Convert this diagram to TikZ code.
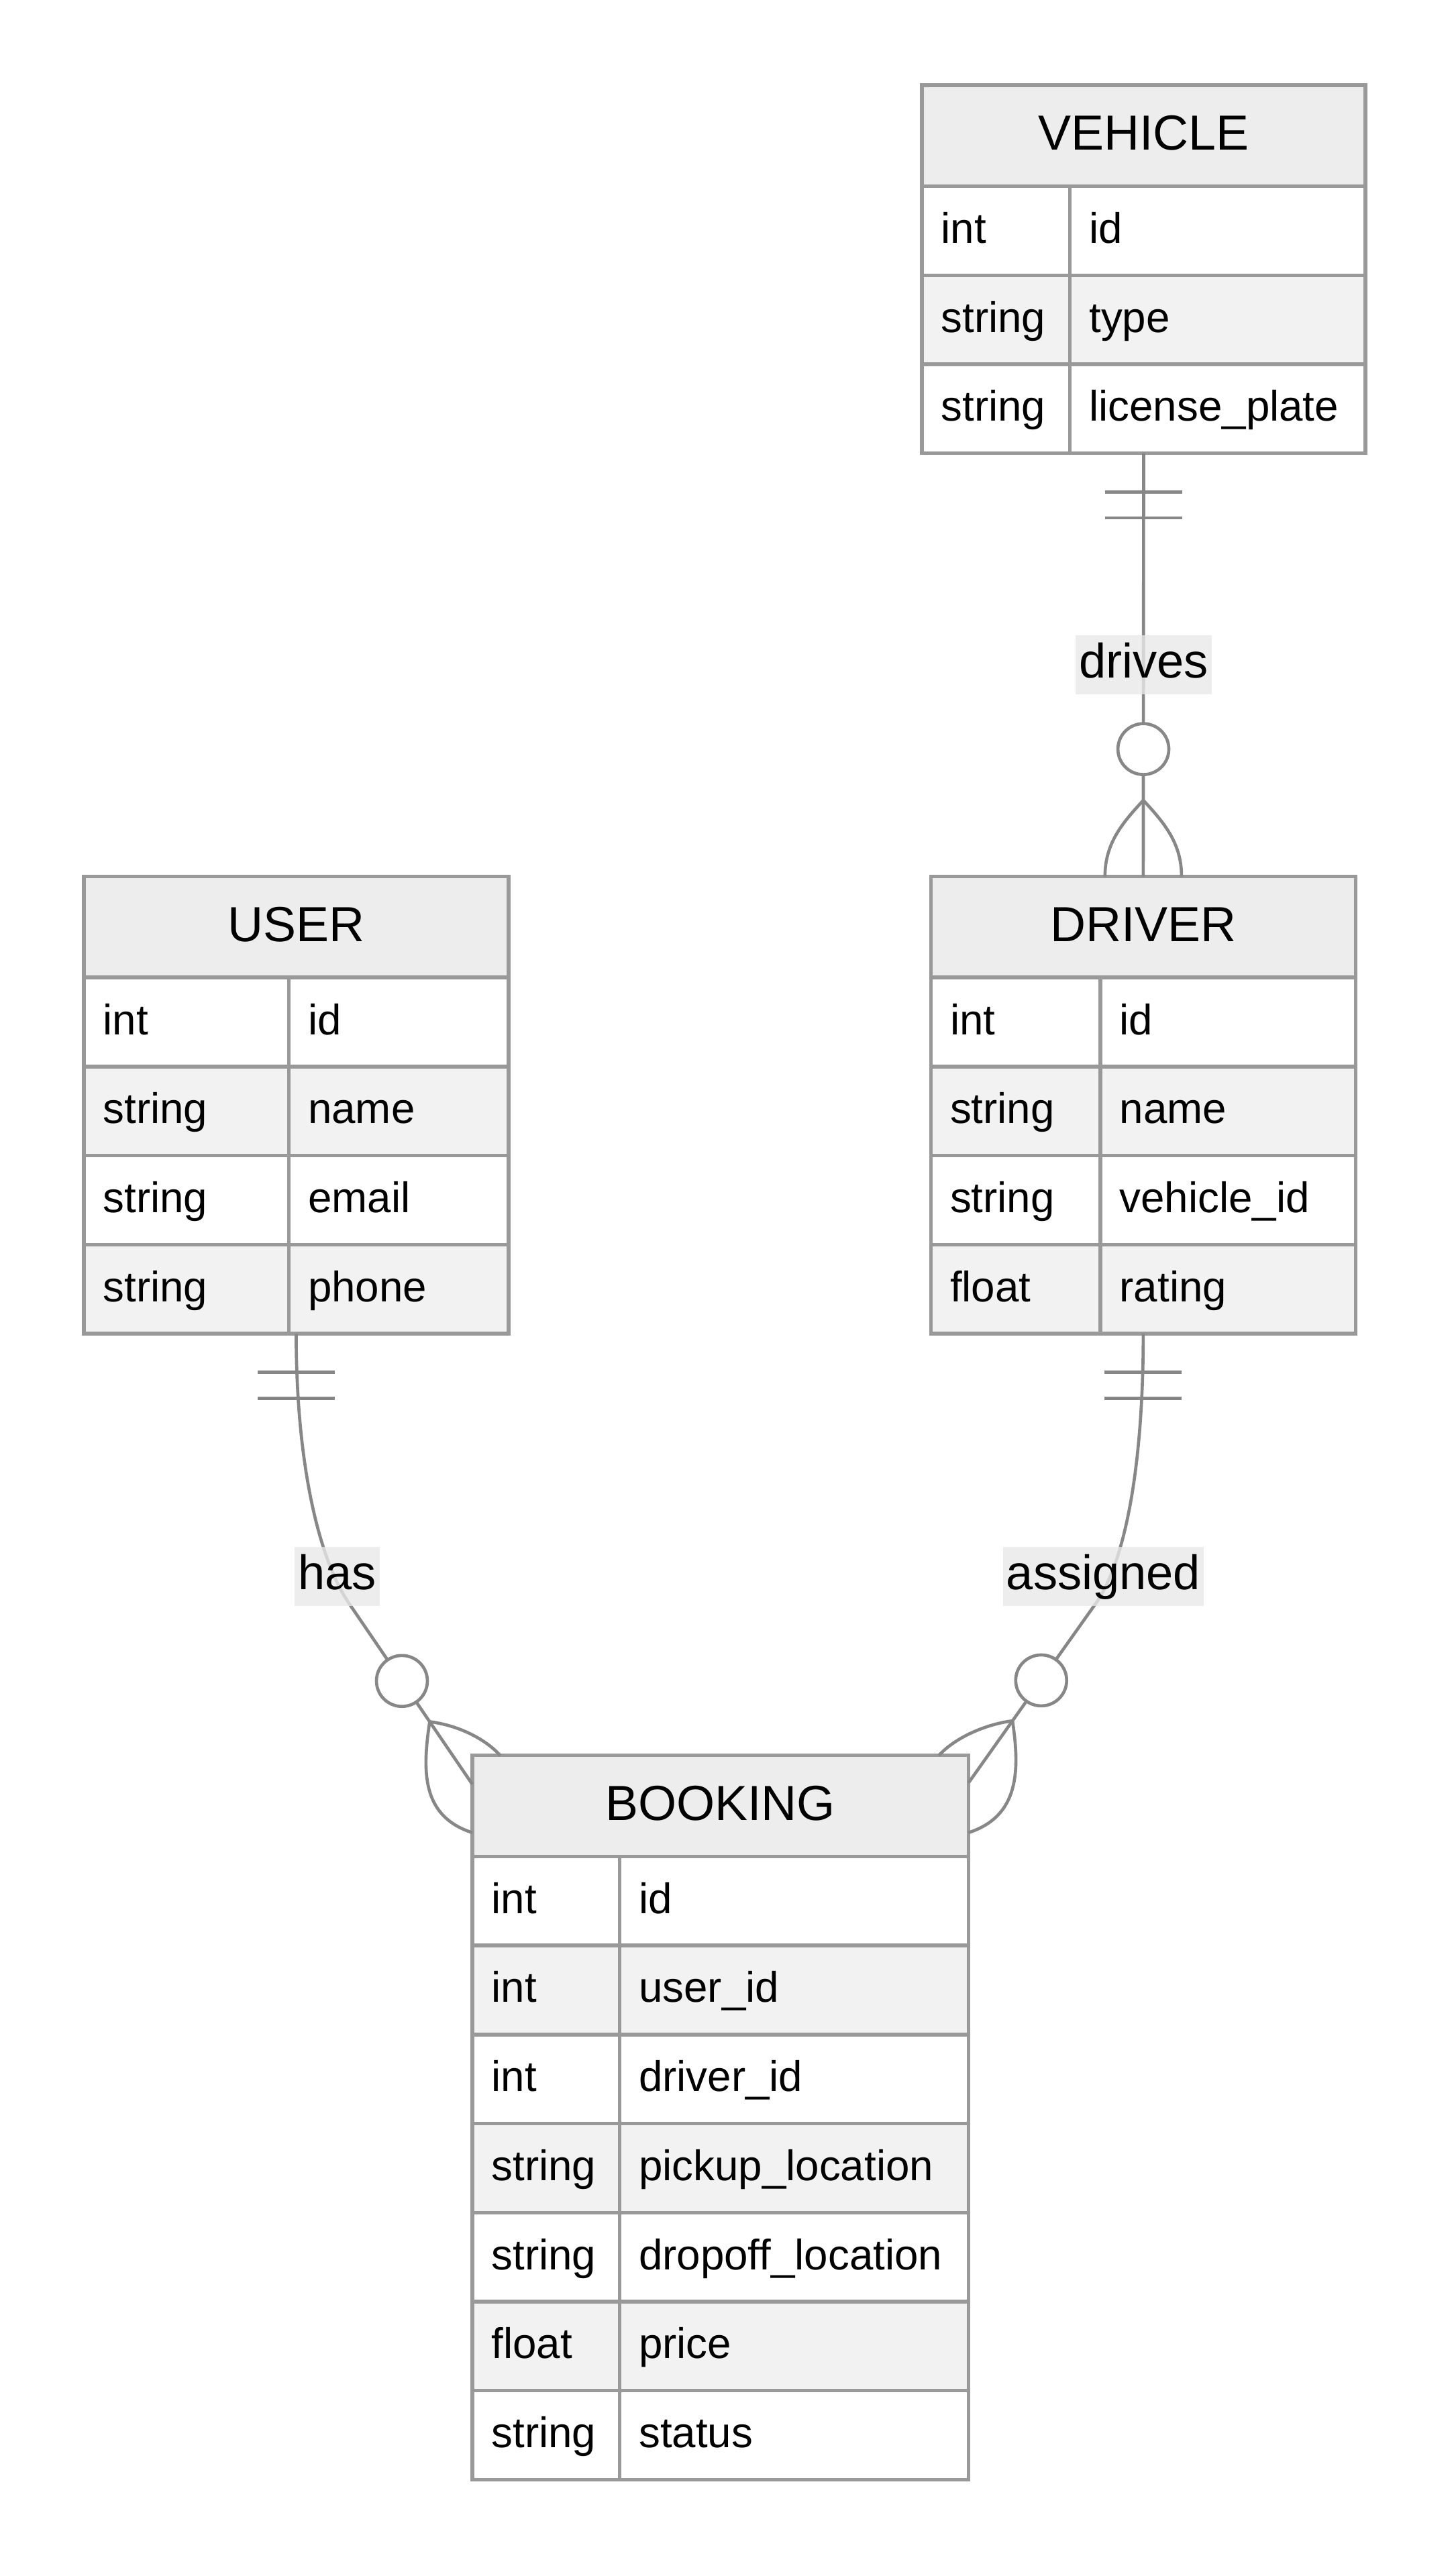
\documentclass[tikz,border=0pt]{standalone}
\usepackage{fontspec}
\setmainfont{Liberation Sans}

\tikzset{
  tableline/.style={draw=black!40, line width=2.2pt},
  headfill/.style={fill=black!7},
  rowfill/.style={fill=black!5},
  titletext/.style={font=\fontsize{30}{36}\selectfont, text height=22.5pt, text depth=5pt, inner sep=0pt},
  celltext/.style={anchor=west, font=\fontsize{26}{31}\selectfont, text height=19.5pt, text depth=4.4pt, inner sep=0pt},
  entity/.style={tableline, rectangle, inner sep=0pt, outer sep=0pt, anchor=north west},
  relline/.style={draw=black!47, line width=1.9pt},
  zerocirc/.style={circle, draw=black!47, line width=1.9pt, fill=white, minimum size=31pt, inner sep=0pt},
  rellabel/.style={fill=black!9, fill opacity=0.8, text opacity=1, font=\fontsize{29.5}{36}\selectfont, text height=22.1pt, text depth=5.9pt, inner xsep=2pt, inner ysep=4pt},
}

% #1 name, #2 title, #3 left, #4 top, #5 width, #6 type column, #7 rows, #8 fields
\newcommand{\erentity}[8]{%
  \fill[headfill] (#3,#4) rectangle ++(#5,61.5);
  \node[titletext] (#1-title) at (#3+#5/2,#4+30.75) {#2};
  \foreach \ty/\nm [count=\i] in {#8}{%
    \pgfmathsetmacro{\rowy}{#4+61.5+(\i-1)*54.2}
    \ifodd\i\else\fill[rowfill] (#3,\rowy) rectangle ++(#5,54.2);\fi
    \node[celltext] (#1-t\i) at (#3+11.5,\rowy+27.1) {\ty};
    \node[celltext] (#1-n\i) at (#3+#6+11.5,\rowy+27.1) {\nm};
    \draw[tableline] (#3,\rowy) -- ++(#5,0);
  }
  \pgfmathsetmacro{\enth}{61.5+#7*54.2}
  \draw[tableline] (#3+#6,#4+61.5) -- ++(0,#7*54.2);
  \node[entity, minimum width=#5 pt, minimum height=\enth pt] (#1) at (#3,#4) {};
}

\begin{document}
\begin{tikzpicture}[x=1pt, y=-1pt]
\useasboundingbox (0,0) rectangle (886,1568);

% entities
\erentity{vehicle}{VEHICLE}{561}{51.8}{270}{90.2}{3}{int/id, string/type, string/license\_plate}
\erentity{user}{USER}{51}{533.5}{258.5}{124.8}{4}{int/id, string/name, string/email, string/phone}
\erentity{driver}{DRIVER}{566.5}{533.5}{258.5}{103.2}{4}{int/id, string/name, string/vehicle\_id, float/rating}
\erentity{booking}{BOOKING}{287.4}{1068.5}{302}{89.7}{7}{int/id, int/user\_id, int/driver\_id, string/pickup\_location, string/dropoff\_location, float/price, string/status}

% VEHICLE drives DRIVER
\draw[relline] (vehicle.south) -- coordinate[pos=0.82] (drivesX) node[zerocirc, pos=0.699] (drivesO) {} (driver.north);
\draw[relline] ([shift={(-23.5,23.5)}]vehicle.south) -- ++(47,0)
               ([shift={(-23.5,39.3)}]vehicle.south) -- ++(47,0);
\draw[relline] (drivesX) .. controls +(-13,14) and +(0,-20) .. ([xshift=-23.3pt]driver.north)
               (drivesX) .. controls +(13,14) and +(0,-20) .. ([xshift=23.3pt]driver.north);
\node[rellabel] (drivesL) at (696,404.7) {drives};

% USER has BOOKING
\coordinate (hasBend) at (212.3,975.8);
\draw[relline] (user.south) .. controls +(0,80) and +(-18,-26.5) .. (hasBend)
  -- coordinate[pos=0.655] (hasX) node[zerocirc, pos=0.43] (hasO) {} ([yshift=-17.5pt]booking.north west);
\draw[relline] ([shift={(-23.5,23.5)}]user.south) -- ++(47,0)
               ([shift={(-23.5,39.3)}]user.south) -- ++(47,0);
\draw[relline] (hasX) .. controls +(16,2) and +(-10,-11) .. ([xshift=17pt]booking.north west)
               (hasX) .. controls +(-4.5,30) and +(-31,-10) .. ([yshift=-47pt]booking.north west);
\node[rellabel] (hasL) at (205.2,959.5) {has};

% DRIVER assigned BOOKING
\coordinate (assignedBend) at (667,975.8);
\draw[relline] (driver.south) .. controls +(0,80) and +(18,-26) .. (assignedBend)
  -- coordinate[pos=0.655] (assignedX) node[zerocirc, pos=0.43] (assignedO) {} ([yshift=-16.7pt]booking.north east);
\draw[relline] ([shift={(-23.5,23.5)}]driver.south) -- ++(47,0)
               ([shift={(-23.5,39.3)}]driver.south) -- ++(47,0);
\draw[relline] (assignedX) .. controls +(-16,2) and +(10,-11) .. ([xshift=-18pt]booking.north east)
               (assignedX) .. controls +(4.5,30) and +(31,-10) .. ([yshift=-47pt]booking.north east);
\node[rellabel] (assignedL) at (671.5,959.5) {assigned};

\end{tikzpicture}
\end{document}
